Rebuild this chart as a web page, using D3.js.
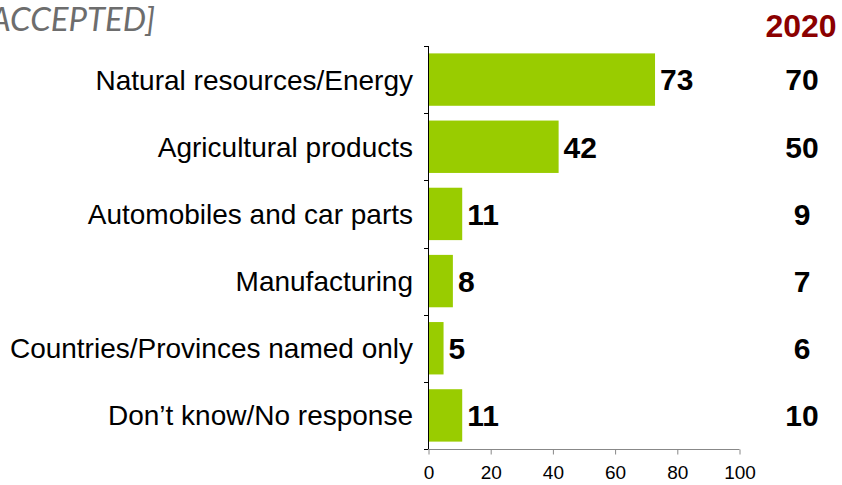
<!DOCTYPE html>
<html><head><meta charset="utf-8">
<script src="https://cdn.jsdelivr.net/npm/d3@7"></script>
<style>body{margin:0;background:#fff}svg{display:block}</style>
</head><body>
<svg id="c" width="842" height="485"></svg>
<script>
const categories = ["Natural resources/Energy","Agricultural products","Automobiles and car parts","Manufacturing","Countries/Provinces named only","Don\u2019t know/No response"];
const values2022 = [73,42,11,8,5,11];
const values2020 = [70,50,9,7,6,10];
const xTicks = [0,20,40,60,80,100];
const titleText = "[ACCEPTED]";
const yearLabel = "2020";

const FONT = "'Liberation Sans', Arial, sans-serif";
const svg = d3.select("#c");
const x = d3.scaleLinear().domain([0,100]).range([428,739]);
const y = d3.scaleBand().domain(categories).range([46,449]).paddingInner(0.22).paddingOuter(0.11);

svg.append("text").attr("x",155).attr("y",31).attr("text-anchor","end")
  .attr("font-family","Lato, 'Open Sans', sans-serif").attr("font-style","italic").attr("font-weight",400)
  .attr("font-size",33).attr("fill","#6d6d6d").text(titleText);

svg.append("text").attr("x",801).attr("y",37).attr("text-anchor","middle")
  .attr("font-family",FONT).attr("font-weight","bold")
  .attr("font-size",32).attr("fill","#8b0000").text(yearLabel);

svg.selectAll("rect.bar").data(categories).join("rect").attr("class","bar")
  .attr("x",x(0)).attr("y",d=>y(d)).attr("height",y.bandwidth())
  .attr("width",(d,i)=>x(values2022[i])-x(0)).attr("fill","#99cc00");

// y axis
const yAxisG = svg.append("g");
yAxisG.append("line").attr("x1",428.5).attr("x2",428.5).attr("y1",46).attr("y2",449).attr("stroke","#000").attr("stroke-width",1);
const bounds = d3.range(categories.length+1).map(i=>46 + i*(449-46)/categories.length);
yAxisG.selectAll("line.t").data(bounds).join("line").attr("class","t")
  .attr("x1",424).attr("x2",428.5).attr("y1",d=>Math.round(d)+0.5).attr("y2",d=>Math.round(d)+0.5).attr("stroke","#000");

// x axis
const xAxis = d3.axisBottom(x).tickValues(xTicks).tickSize(5).tickPadding(11);
const xg = svg.append("g").attr("transform","translate(0.5,449.5)").call(xAxis);
xg.select(".domain").attr("stroke","#888").attr("d","M428,0H739");
xg.selectAll(".tick line").attr("stroke","#888");
xg.selectAll(".tick text").attr("font-family",FONT).attr("font-size",19).attr("fill","#000");

// category labels
svg.selectAll("text.cat").data(categories).join("text").attr("class","cat")
  .attr("x",413).attr("y",d=>y(d)+y.bandwidth()/2).attr("dy","0.36em").attr("text-anchor","end")
  .attr("font-family",FONT).attr("font-size",28).attr("fill","#000").text(d=>d);

// value labels
svg.selectAll("text.val").data(categories).join("text").attr("class","val")
  .attr("x",(d,i)=>x(values2022[i])+5).attr("y",d=>y(d)+y.bandwidth()/2).attr("dy","0.36em")
  .attr("font-family",FONT).attr("font-weight","bold").attr("font-size",30).attr("fill","#000")
  .text((d,i)=>values2022[i]);

svg.selectAll("text.v20").data(categories).join("text").attr("class","v20")
  .attr("x",802).attr("y",d=>y(d)+y.bandwidth()/2).attr("dy","0.36em").attr("text-anchor","middle")
  .attr("font-family",FONT).attr("font-weight","bold").attr("font-size",30).attr("fill","#000")
  .text((d,i)=>values2020[i]);
</script>
</body></html>
